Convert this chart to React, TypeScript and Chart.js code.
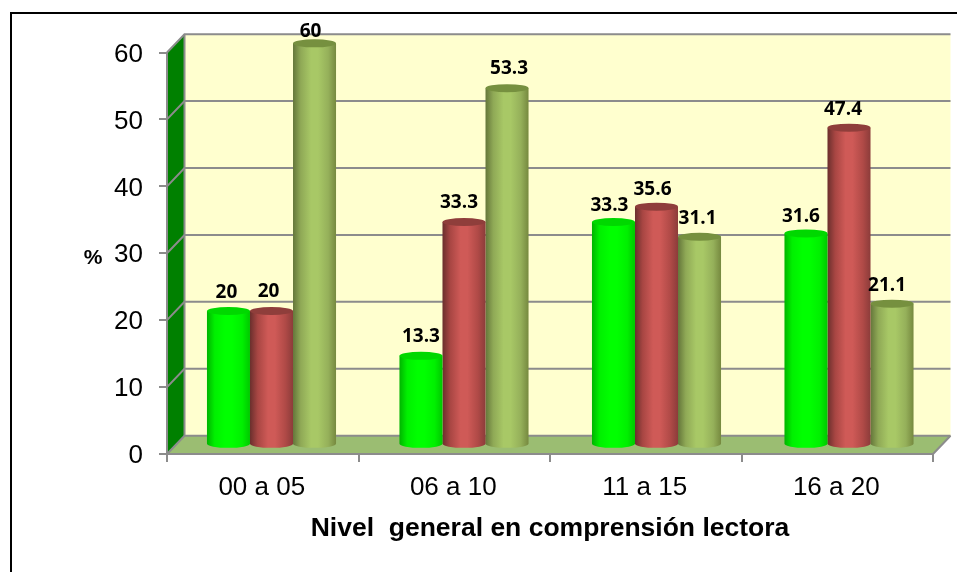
import React, { useEffect, useRef } from "react";
import { Chart, registerables } from "chart.js";

Chart.register(...registerables);

const categories = ["00 a 05", "06 a 10", "11 a 15", "16 a 20"];
const serieA = [20, 13.3, 33.3, 31.6];
const serieB = [20, 33.3, 35.6, 47.4];
const serieC = [60, 53.3, 31.1, 21.1];
const yTitle = "%";
const xTitle = "Nivel  general en comprensión lectora";

// hand placement of the value labels, relative to the top of each bar: [dx, dy]
const labelNudgeA = [[-2, -18], [0, -19], [-4, -16], [-5, -17]];
const labelNudgeB = [[-3, -19], [-5, -19], [-4, -17], [-6, -18]];
const labelNudgeC = [[-4, -12], [2, -20], [-2, -18], [-5, -18]];

const DEPTH_X = 17.5;
const DEPTH_Y = 18.3;
const GROUP_DRIFT = 1; // the reference's bar groups sit slightly wider apart than its ticks
const GRID = "#8c8c8c";

const palettes = [
  { stops: ["#00b400", "#00f000", "#00ff00", "#00ff00", "#00f000", "#00c800"], cap: "#00d800" },
  { stops: ["#6a2f2d", "#a84643", "#cf5a57", "#cf5a57", "#b04a47", "#8c3c3a"], cap: "#8f3e3b" },
  { stops: ["#64763a", "#8fa956", "#a8c866", "#a8c866", "#95b05a", "#76893f"], cap: "#76903f" },
];

const wall3d = {
  id: "wall3d",
  beforeDraw(chart: any) {
    const { ctx, scales } = chart;
    const x = scales.x;
    const y = scales.y;
    const left = x.left;
    const right = x.right;
    const bottom = y.bottom;
    const top = y.top;
    ctx.save();
    // frame
    ctx.strokeStyle = "#000";
    ctx.lineWidth = 2;
    ctx.beginPath();
    ctx.moveTo(11, 572);
    ctx.lineTo(11, 13);
    ctx.lineTo(957, 13);
    ctx.stroke();
    // back wall
    ctx.fillStyle = "#ffffcf";
    ctx.fillRect(left + DEPTH_X, top - DEPTH_Y, right - left, bottom - top);
    // left wall
    ctx.fillStyle = "#008000";
    ctx.beginPath();
    ctx.moveTo(left, top);
    ctx.lineTo(left + DEPTH_X, top - DEPTH_Y);
    ctx.lineTo(left + DEPTH_X, bottom - DEPTH_Y);
    ctx.lineTo(left, bottom);
    ctx.closePath();
    ctx.fill();
    // floor
    ctx.fillStyle = "#9bbd72";
    ctx.beginPath();
    ctx.moveTo(left, bottom);
    ctx.lineTo(left + DEPTH_X, bottom - DEPTH_Y);
    ctx.lineTo(right + DEPTH_X, bottom - DEPTH_Y);
    ctx.lineTo(right, bottom);
    ctx.closePath();
    ctx.fill();
    // grid lines folding over the two walls
    ctx.strokeStyle = GRID;
    ctx.lineWidth = 2;
    y.ticks.forEach((t: any) => {
      const py = y.getPixelForValue(t.value);
      ctx.beginPath();
      ctx.moveTo(left, py);
      ctx.lineTo(left + DEPTH_X, py - DEPTH_Y);
      ctx.lineTo(right + DEPTH_X, py - DEPTH_Y);
      ctx.stroke();
    });
    ctx.beginPath();
    ctx.moveTo(left + DEPTH_X, top - DEPTH_Y);
    ctx.lineTo(left + DEPTH_X, bottom - DEPTH_Y);
    ctx.moveTo(right, bottom);
    ctx.lineTo(right + DEPTH_X, bottom - DEPTH_Y);
    ctx.stroke();
    // y title, horizontal as in the reference
    ctx.fillStyle = "#000";
    ctx.font = "bold 21px 'Liberation Sans'";
    ctx.textAlign = "center";
    ctx.textBaseline = "middle";
    ctx.fillText(yTitle, 93, y.getPixelForValue(30) + 5);
    ctx.restore();
  },
  beforeDatasetDraw(chart: any, args: any) {
    const { ctx } = chart;
    const pal = palettes[args.index];
    const meta = args.meta;
    ctx.save();
    meta.data.forEach((bar: any, i: number) => {
      const p = bar.getProps(["x", "y", "base", "width"], true);
      const cx = p.x + DEPTH_X / 2 + i * GROUP_DRIFT;
      const hw = p.width / 2;
      const top = p.y - DEPTH_Y / 2;
      const base = p.base - DEPTH_Y / 2;
      const ry = 4;
      const g = ctx.createLinearGradient(cx - hw, 0, cx + hw, 0);
      const at = [0, 0.18, 0.42, 0.58, 0.82, 1];
      pal.stops.forEach((c, k) => g.addColorStop(at[k], c));
      ctx.fillStyle = g;
      ctx.beginPath();
      ctx.moveTo(cx - hw, top);
      ctx.lineTo(cx - hw, base);
      ctx.ellipse(cx, base, hw, ry, 0, Math.PI, 0, true);
      ctx.lineTo(cx + hw, top);
      ctx.closePath();
      ctx.fill();
      ctx.fillStyle = pal.cap;
      ctx.beginPath();
      ctx.ellipse(cx, top, hw, ry, 0, 0, Math.PI * 2);
      ctx.fill();
    });
    ctx.restore();
    return false;
  },
  afterDatasetsDraw(chart: any) {
    const { ctx } = chart;
    const nudges = [labelNudgeA, labelNudgeB, labelNudgeC];
    ctx.save();
    ctx.fillStyle = "#000";
    ctx.textAlign = "center";
    ctx.textBaseline = "middle";
    chart.data.datasets.forEach((ds: any, d: number) => {
      chart.getDatasetMeta(d).data.forEach((bar: any, i: number) => {
        const p = bar.getProps(["x", "y"], true);
        const [dx, dy] = nudges[d][i];
        ctx.font = "bold 19px 'Open Sans'";
        ctx.fillText(String(ds.data[i]), p.x + DEPTH_X / 2 + i * GROUP_DRIFT + dx, p.y - DEPTH_Y / 2 + dy);
      });
    });
    ctx.restore();
  },
};

export default function App() {
  const ref = useRef<HTMLCanvasElement>(null);
  useEffect(() => {
    const chart = new Chart(ref.current!, {
      type: "bar",
      data: {
        labels: categories,
        datasets: [
          { label: "A", data: serieA, backgroundColor: "#00ff00" },
          { label: "B", data: serieB, backgroundColor: "#c0504d" },
          { label: "C", data: serieC, backgroundColor: "#9bbb59" },
        ],
      },
      plugins: [wall3d],
      options: {
        animation: false,
        responsive: false,
        devicePixelRatio: 1,
        layout: { padding: { top: 52.5, right: 24, left: 0, bottom: 0 } },
        plugins: { legend: { display: false }, tooltip: { enabled: false }, title: { display: false } },
        datasets: { bar: { categoryPercentage: 0.674, barPercentage: 1 } },
        scales: {
          x: {
            afterFit(s: any) { s.height = 118; },
            grid: { drawOnChartArea: false, tickLength: 8, color: GRID, lineWidth: 2 },
            border: { color: GRID, width: 2 },
            ticks: { color: "#000", padding: 10, labelOffset: -1, font: { family: "'Liberation Sans'", size: 26 }, maxRotation: 0 },
            title: {
              display: true,
              text: xTitle,
              color: "#000",
              font: { family: "'Liberation Sans'", size: 26.5, weight: "bold" },
              padding: { top: 0, bottom: 27 },
            },
          },
          y: {
            min: 0,
            max: 60,
            afterFit(s: any) { s.width = 167; },
            grid: { drawOnChartArea: false, tickLength: 8, color: GRID, lineWidth: 2 },
            border: { color: GRID, width: 2 },
            ticks: { stepSize: 10, color: "#000", padding: 16, labelOffset: 2, font: { family: "'Liberation Sans'", size: 26 } },
          },
        },
      } as any,
    });
    return () => chart.destroy();
  }, []);
  return (
    <div style={{ position: "absolute", left: 0, top: 0, width: 957, height: 572, background: "#fff" }}>
      <canvas ref={ref} width={957} height={572} style={{ display: "block", width: 957, height: 572 }} />
    </div>
  );
}
